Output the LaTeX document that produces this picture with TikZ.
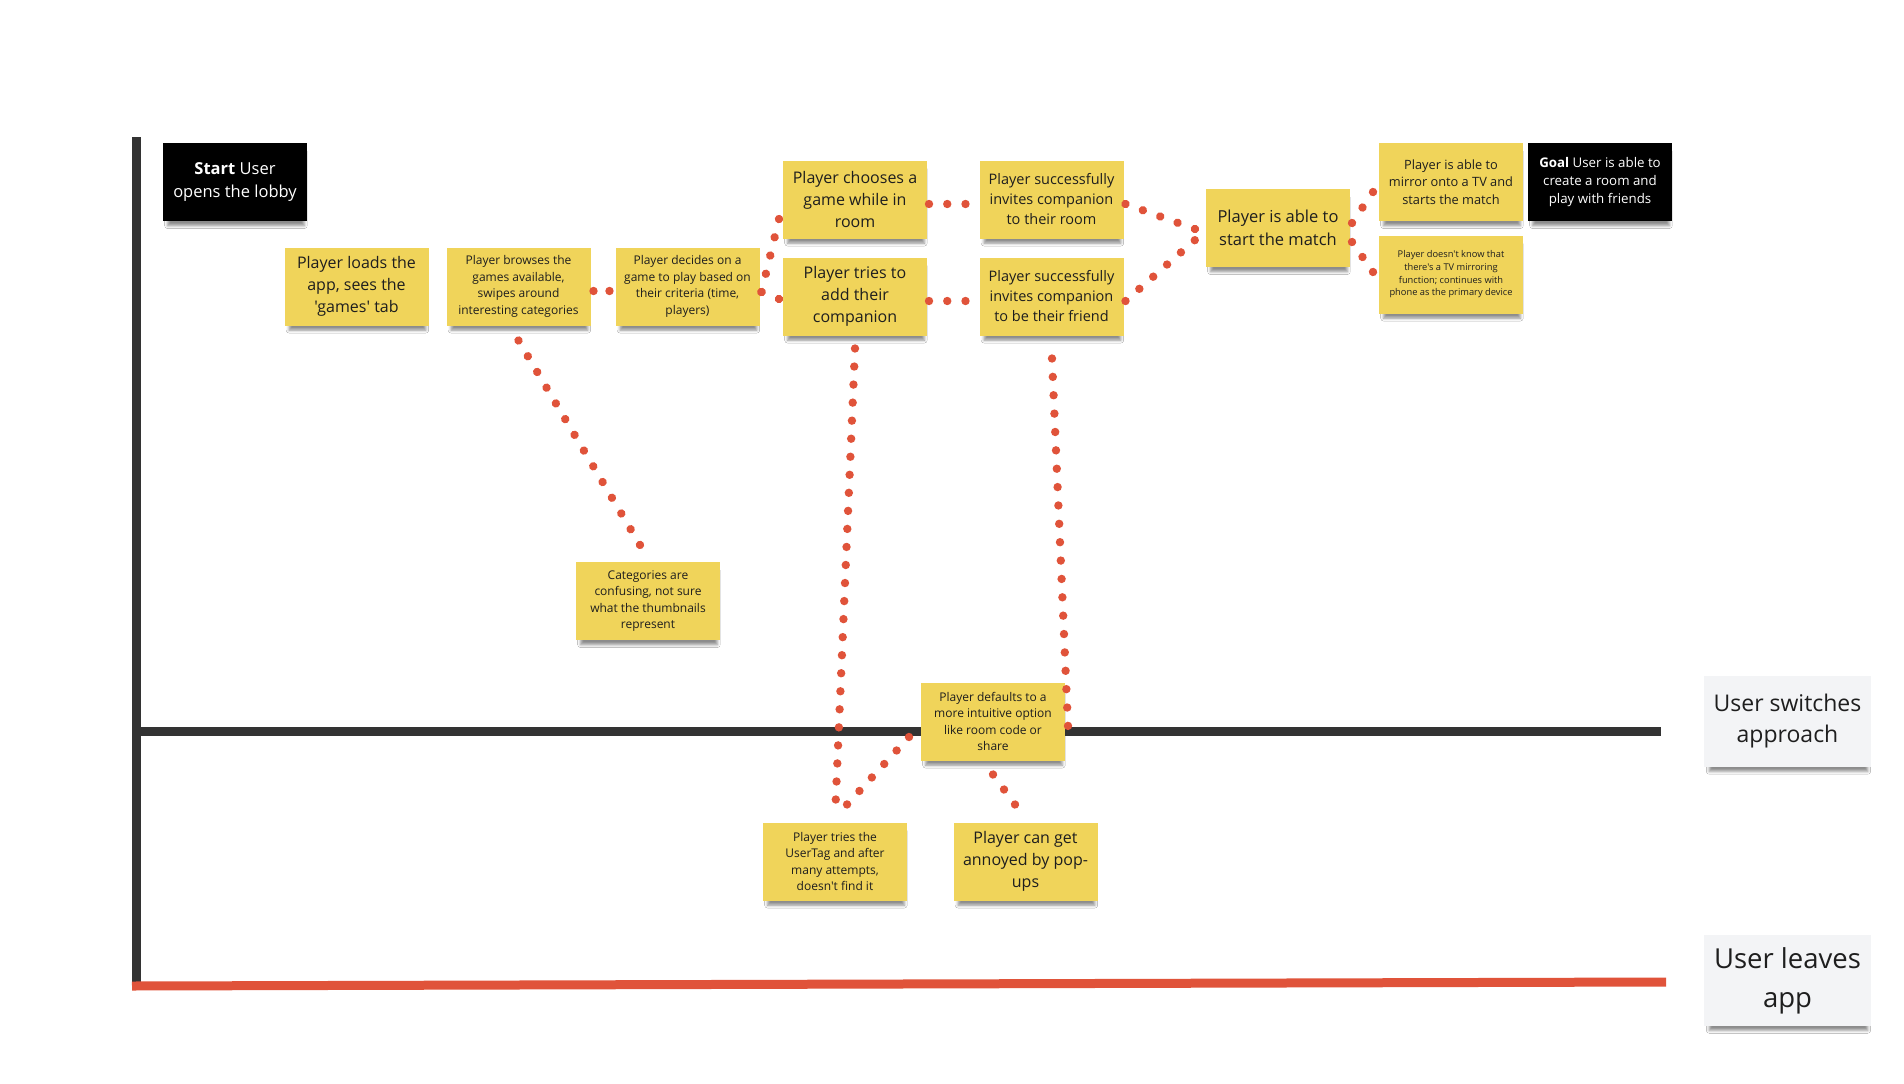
\documentclass[tikz,border=0pt]{standalone}
\usepackage{fontspec}
\setmainfont{Open Sans}[Ligatures=TeXOff]
\usetikzlibrary{decorations.markings,shadows.blur}
\definecolor{stick}{HTML}{F0D45A}
\definecolor{dotc}{HTML}{E0533A}
\definecolor{axisc}{HTML}{333333}
\definecolor{inkc}{HTML}{1E1E1E}
\definecolor{lab}{HTML}{F3F4F6}
\tikzset{
  every node/.style={inner sep=0pt, outer sep=0pt},
  note/.style={fill=stick, text=inkc, align=center, minimum width=144pt, minimum height=78pt,
    blur shadow={shadow xshift=1pt, shadow yshift=-7pt, shadow scale=0.95, shadow blur radius=3pt, shadow opacity=45}},
  dark/.style={note, fill=black, text=white},
  lane/.style={note, fill=lab, minimum width=167pt, minimum height=91pt},
  big/.style={font=\fontsize{16}{22}\selectfont},
  mid/.style={font=\fontsize{14.5}{20}\selectfont},
  small/.style={font=\fontsize{12}{16.5}\selectfont},
  mirf/.style={font=\fontsize{12.8}{17.5}\selectfont},
  dots/.style={decoration={markings, mark=between positions 0 and 1 step #1 with {\fill[dotc] (0,0) circle (4.2pt);}}, postaction={decorate}},
  axisline/.style={line width=9pt}
}
\begin{document}
\begin{tikzpicture}[x=1pt,y=-1pt]
\fill[white] (0,0) rectangle (1904,1084);
\useasboundingbox (0,0) rectangle (1904,1084);
% axes
\draw[axisc, axisline] (136,137) -- (136,986);
\draw[axisc, axisline] (140,731) -- (1661,731);
\draw[dotc, axisline] (132,986) -- (1666,982);
% notes
\node[dark, font=\fontsize{16.5}{22.5}\selectfont] (start) at (235,182) {\textbf{Start} User\\opens the lobby};
\node[note,big] (loads) at (356.5,286.5) {Player loads the\\app, sees the\\'games' tab};
\node[note,small] (brow) at (518.5,286.5) {Player browses the\\games available,\\swipes around\\interesting categories};
\node[note,small] (dec) at (687.5,286.5) {Player decides on a\\game to play based on\\their criteria (time,\\players)};
\node[note,big] (choo) at (855,199.5) {Player chooses a\\game while in\\room};
\node[note,big] (tries) at (855,296.5) {Player tries to\\add their\\companion};
\node[note,mid] (room) at (1051.5,199.5) {Player successfully\\invites companion\\to their room};
\node[note,mid] (friend) at (1051.5,296.5) {Player successfully\\invites companion\\to be their friend};
\node[note,font=\fontsize{16.5}{23}\selectfont] (match) at (1278,228) {Player is able to\\start the match};
\node[note,mirf] (mirror) at (1451,182) {Player is able to\\mirror onto a TV and\\starts the match};
\node[dark,font=\fontsize{13.3}{18}\selectfont] (goal) at (1600,182) {\textbf{Goal} User is able to\\create a room and\\play with friends};
\node[note,font=\fontsize{9.3}{12.7}\selectfont] (dunno) at (1451,274.5) {Player doesn't know that\\there's a TV mirroring\\function; continues with\\phone as the primary device};
\node[note,small] (cat) at (648,601) {Categories are\\confusing, not sure\\what the thumbnails\\represent};
\node[note,small] (def) at (993,721.5) {Player defaults to a\\more intuitive option\\like room code or\\share};
\node[note,small] (tag) at (835,861.5) {Player tries the\\UserTag and after\\many attempts,\\doesn't find it};
\node[note,big] (pop) at (1025.5,861.5) {Player can get\\annoyed by pop-\\ups};
\node[lane,font=\fontsize{23}{31}\selectfont] (switch) at (1787.5,721.5) {User switches\\approach};
\node[lane,font=\fontsize{27.5}{39}\selectfont] (leave) at (1787.5,980.5) {User leaves\\app};
% dotted connectors
\path[dots=0.999] ([shift={(3,4.5)}]brow.east) -- ([shift={(-6,4.5)}]dec.west);
\path[dots=0.0769] ([shift={(0,15)}]brow.south) -- ([shift={(-8,-17)}]cat.north);
\path[dots=0.2499] ([shift={(2,5.5)}]dec.east) -- ([shift={(-4,19.5)}]choo.west);
\path[dots=0.999] ([shift={(2,5.5)}]dec.east) -- ([shift={(-4,2.5)}]tries.west);
\path[dots=0.4999] ([shift={(2,4.5)}]choo.east) -- ([shift={(-14,4.5)}]room.west);
\path[dots=0.4999] ([shift={(2,4.5)}]tries.east) -- ([shift={(-14,4.5)}]friend.west);
\path[dots=0.2499] ([shift={(2,4.5)}]room.east) -- ([shift={(-11,1)}]match.west);
\path[dots=0.1999] ([shift={(2,4.5)}]friend.east) -- ([shift={(-11,12)}]match.west);
\path[dots=0.4999] ([shift={(2,-5)}]match.east) -- ([shift={(-6,10)}]mirror.west);
\path[dots=0.4999] ([shift={(2,14)}]match.east) -- ([shift={(-6,-2.5)}]dunno.west);
\path[dots=0.03846] ([shift={(0,13)}]tries.south) -- ([shift={(0,-5)}]tag.north);
\path[dots=0.1999] ([shift={(-12,15.5)}]def.west) -- ([shift={(12,-18)}]tag.north);
\path[dots=0.04999] ([shift={(0.5,23)}]friend.south) -- ([shift={(3,4.5)}]def.east);
\path[dots=0.4999] ([shift={(0,14)}]def.south) -- ([shift={(-10.5,-18)}]pop.north);
\end{tikzpicture}
\end{document}
